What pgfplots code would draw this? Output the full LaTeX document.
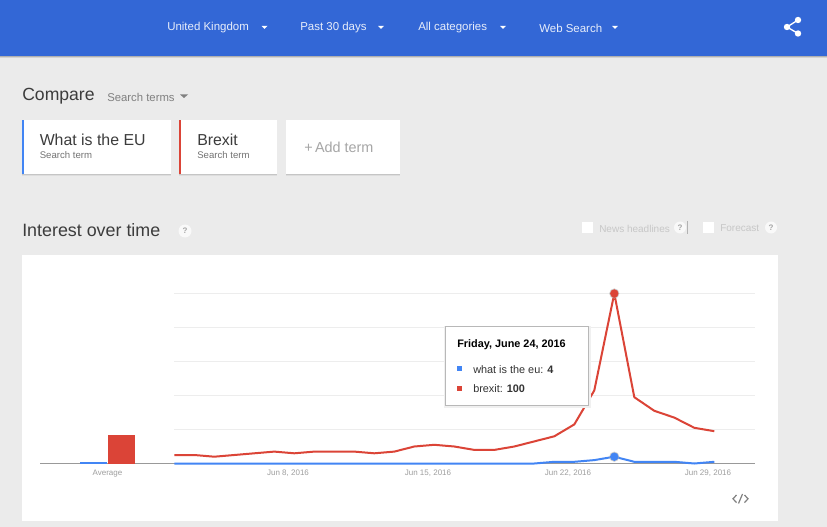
\documentclass[border=0pt]{standalone}
\usepackage{pgfplots}
\pgfplotsset{compat=1.18}
\usepackage{fontspec}
\setmainfont{Liberation Sans}
\definecolor{hdr}{HTML}{3367D6}
\definecolor{pagebg}{HTML}{EBEBEB}
\definecolor{gred}{HTML}{DB4437}
\definecolor{gblue}{HTML}{4285F4}
\definecolor{txt}{HTML}{3C3C3C}
\newcommand{\fs}[1]{\fontsize{#1}{#1}\selectfont}
\pgfplotstableread{
d brexit eu
2 5 0
3 5 0
4 4 0
5 5 0
6 6 0
7 7 0
8 6 0
9 7 0
10 7 0
11 7 0
12 6 0
13 7 0
14 10 0
15 11 0
16 10 0
17 8 0
18 8 0
19 10 0
20 13 0
21 16 1
22 23 1
23 43 2
24 100 4
25 39 1
26 31 1
27 27 1
28 21 0
29 19 1
}\trends
\begin{document}
\begin{tikzpicture}
\begin{scope}[x=0.75pt,y=-0.75pt]
\path[use as bounding box] (0,0) rectangle (827,527);
\fill[pagebg] (0,0) rectangle (827,527);
% header
\fill[black!10!pagebg] (0,56) rectangle (827,58.5);
\fill[black!25!pagebg] (0,56) rectangle (827,57);
\fill[hdr] (0,0) rectangle (827,56);
\foreach \tx/\lx/\tr in {United Kingdom/167/264.5,Past 30 days/300/381,All categories/418/503,Web Search/539/615}{
  \node[anchor=west,inner sep=0,text=white!88!hdr,font=\fs{8.6pt}] at (\lx,28) {\tx};
  \fill[white] (\tr-3,25.8) -- (\tr+3,25.8) -- (\tr,29) -- cycle;
}
% share icon
\draw[white,line width=1pt] (798,20) -- (787,27) -- (798,33.5);
\fill[white] (798,20) circle (3.2) (787,27) circle (3.2) (798,33.5) circle (3.2);
% compare
\node[anchor=west,inner sep=0,text=txt,font=\fs{13.2pt}] at (22,96) {Compare};
\node[anchor=west,inner sep=0,text=black!50,font=\fs{8.5pt}] at (107,97) {Search terms};
\fill[black!50] (180,94.5) -- (188,94.5) -- (184,98) -- cycle;
% cards
\foreach \a/\b in {22/170.5,179/277,286/400}{
  \fill[black!6!pagebg] (\a,120) rectangle (\b,176);
  \fill[black!16!pagebg] (\a,120) rectangle (\b,175);
  \fill[white] (\a,120) rectangle (\b,174);
}
\fill[gblue] (22,120) rectangle (24,174);
\fill[gred] (179,120) rectangle (181,174);
\node[anchor=west,inner sep=0,text=txt,font=\fs{11.9pt}] at (39.5,139.5) {What is the EU};
\node[anchor=west,inner sep=0,text=black!55,font=\fs{7.2pt}] at (39.5,155) {Search term};
\node[anchor=west,inner sep=0,text=txt,font=\fs{11.9pt}] at (197,139.5) {Brexit};
\node[anchor=west,inner sep=0,text=black!55,font=\fs{7.2pt}] at (197,155) {Search term};
\node[anchor=west,inner sep=0,text=black!35,font=\fs{10.8pt}] at (304,147.5) {+\,Add term};
% interest over time
\node[anchor=west,inner sep=0,text=txt,font=\fs{13.4pt}] at (22,230) {Interest over time};
\fill[white!70!pagebg] (185,231) circle (6.5);
\node[text=black!35,font=\fs{6pt}\bfseries,inner sep=0] at (185,231) {?};
\fill[white] (582,222) rectangle (592.5,232.5);
\node[anchor=west,inner sep=0,text=black!22,font=\fs{7.5pt}] at (599,228.5) {News headlines};
\fill[white!70!pagebg] (680,227.5) circle (6);
\node[text=black!35,font=\fs{6pt}\bfseries,inner sep=0] at (680,227.5) {?};
\draw[black!30,line width=0.4pt] (687.5,221) -- (687.5,234);
\fill[white] (703,222) rectangle (713.5,232.5);
\node[anchor=west,inner sep=0,text=black!22,font=\fs{7.5pt}] at (720,228.5) {Forecast};
\fill[white!70!pagebg] (771,227.5) circle (6);
\node[text=black!35,font=\fs{6pt}\bfseries,inner sep=0] at (771,227.5) {?};
% panel
\fill[white] (22,255) rectangle (778,521);
\end{scope}
\begin{axis}[
  at={(30pt,-347.625pt)},anchor=south west,
  scale only axis,width=536.25pt,height=140.25pt,
  xmin=-4.715,xmax=31.035,ymin=0,ymax=110,
  clip=false,
  axis y line=none,
  axis x line=bottom,
  axis line style={-,color=black!40,line width=0.8pt},
  xtick={-1.34,7.685,14.685,21.685,28.685},
  xticklabels={Average,{Jun 8, 2016},{Jun 15, 2016},{Jun 22, 2016},{Jun 29, 2016}},
  major tick length=0pt,
  xticklabel style={font=\fs{6pt},text=black!38,anchor=center,yshift=-7.6pt,inner sep=0pt},
  ]
% gridlines
\addplot[black!7,line width=0.8pt] coordinates {(2,20) (31.035,20)};
\addplot[black!7,line width=0.8pt] coordinates {(2,40) (31.035,40)};
\addplot[black!7,line width=0.8pt] coordinates {(2,60) (31.035,60)};
\addplot[black!7,line width=0.8pt] coordinates {(2,80) (31.035,80)};
\addplot[black!7,line width=0.8pt] coordinates {(2,100) (31.035,100)};
% average bars
\addplot[fill=gblue,draw=none] coordinates {(-2.7,0) (-2.7,0.9) (-1.37,0.9) (-1.37,0)} -- cycle;
\addplot[fill=gred,draw=none] coordinates {(-1.3,0) (-1.3,16.8) (0.02,16.8) (0.02,0)} -- cycle;
% series
\addplot[gblue,line width=1.5pt,line join=round] table[x=d,y=eu] {\trends};
\addplot[gred,line width=1.5pt,line join=round] table[x=d,y=brexit] {\trends};
% hover markers
\addplot[only marks,mark=*,mark size=3.6pt,color=black!30,mark options={draw=black!30,fill=black!30,opacity=0.5}] coordinates {(24,100) (24,4)};
\addplot[only marks,mark=*,mark size=2.9pt,color=gred,mark options={draw=gred,fill=gred}] coordinates {(24,100)};
\addplot[only marks,mark=*,mark size=2.9pt,color=gblue,mark options={draw=gblue,fill=gblue}] coordinates {(24,4)};
\end{axis}
\begin{scope}[x=0.75pt,y=-0.75pt]
% tooltip
\fill[black!6] (444,326) rectangle (590.5,407.5);
\filldraw[fill=white,draw=black!28,line width=0.6pt] (445.7,326.8) rectangle (588.4,405.3);
\node[anchor=west,inner sep=0,text=black,font=\fs{8.15pt}\bfseries] at (457,345) {Friday, June 24, 2016};
\fill[gblue] (457,366.3) rectangle (462,371.3);
\node[anchor=west,inner sep=0,text=black!80,font=\fs{8.15pt}] at (473,369.2) {what is the eu: \textbf{4}};
\fill[gred] (457,386) rectangle (462,391);
\node[anchor=west,inner sep=0,text=black!80,font=\fs{8.15pt}] at (473,388.8) {brexit: \textbf{100}};
% embed icon
\draw[black!50,line width=0.9pt] (736.5,495) -- (733,498.8) -- (736.5,502.6);
\draw[black!50,line width=0.9pt] (744.5,495) -- (748,498.8) -- (744.5,502.6);
\draw[black!50,line width=0.9pt] (738.5,503.5) -- (742.5,494);
\end{scope}
\end{tikzpicture}
\end{document}
